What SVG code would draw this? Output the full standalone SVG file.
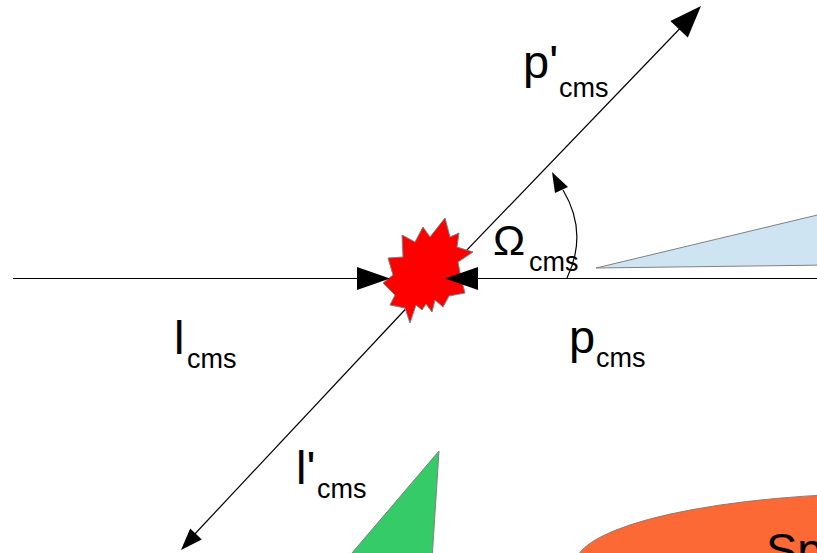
<svg xmlns="http://www.w3.org/2000/svg" width="817" height="553" viewBox="0 0 817 553">
<style>
.ln{stroke:#000;stroke-width:1.2;fill:none}
.ah{fill:#000;stroke:none}
.sh{stroke:#808080;stroke-width:1}
.t{font-family:"Liberation Sans",Arial,sans-serif;fill:#000}
.big{font-size:47px}
.sub{font-size:27px}
</style>
<rect width="817" height="553" fill="#fff"/>
<g id="detector-shapes">
<polygon id="blue-wedge" class="sh" points="596,268 830,212 830,265" fill="#cfe4f3"/>
<polygon id="green-wedge" class="sh" points="439,451 432,560 346,560" fill="#35cb68"/>
<g id="spectrometer">
<ellipse class="sh" cx="900" cy="565" rx="325" ry="72" fill="#fd6935"/>
<text class="t big" x="766" y="566">Sp</text>
</g>
</g>
<g id="connectors">
<line class="ln" x1="13" y1="278.5" x2="360" y2="278.5"/>
<line class="ln" x1="475" y1="278.5" x2="817" y2="278.5"/>
<line class="ln" x1="440" y1="278" x2="690" y2="18"/>
<line class="ln" x1="430" y1="283" x2="192" y2="537"/>
<path class="ln" d="M567,278 C578,255 584,225 563,190"/>
</g>
<g id="collision">
<polygon fill="#ff0000" class="sh" points="445,218 450,237 459,233 457,247 473,252 458,262 461,278 465,293 449,296 443,307 435,300 432,312 426,304 422,310 416,305 410,323 405,308 390,305 395,295 383,283 393,275 388,258 403,257 402,235 415,242 423,227 430,237"/>
</g>
<g id="arrowheads">
<polygon class="ah" points="390,278.5 357,267 357,290"/>
<polygon class="ah" points="445,278.5 478,267 478,290"/>
<polygon class="ah" points="701,6 670.4,21.1 687.8,37.5"/>
<polygon class="ah" points="181,550 190.2,528.5 201.8,539.5"/>
<polygon class="ah" points="552,172 555,193 568,187"/>
</g>
<g id="labels">
<g id="label-p-prime"><text class="t big" x="523" y="78">p'</text><text class="t sub" x="559" y="97">cms</text></g>
<g id="label-omega"><text class="t" font-size="43" x="493" y="255">Ω</text><text class="t sub" x="529" y="271">cms</text></g>
<g id="label-l"><text class="t big" x="174" y="354">l</text><text class="t sub" x="187" y="368">cms</text></g>
<g id="label-p"><text class="t big" x="569" y="353">p</text><text class="t sub" x="596" y="367">cms</text></g>
<g id="label-l-prime"><text class="t big" x="296" y="484">l'</text><text class="t sub" x="317" y="498">cms</text></g>
</g>
</svg>
